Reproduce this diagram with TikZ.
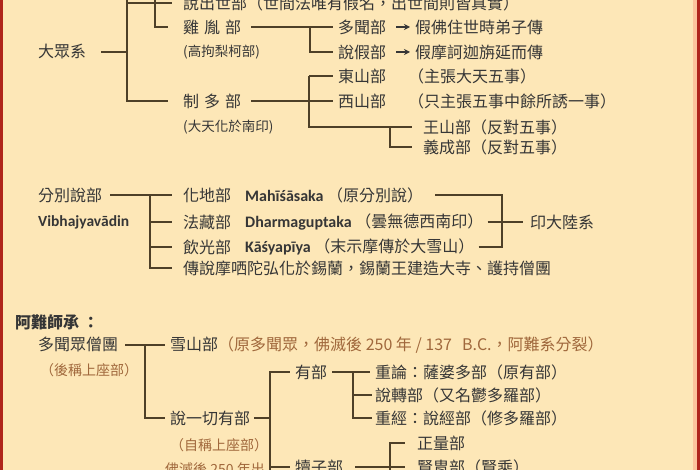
\documentclass[tikz,border=0pt]{standalone}
\usepackage{fontspec}
\setmainfont{Noto Sans CJK TC}
\newfontfamily\lat{Carlito}
\usetikzlibrary{arrows.meta}
\definecolor{bg}{HTML}{FDE7B7}
\definecolor{redb}{HTML}{B0261C}
\definecolor{txt}{HTML}{363636}
\definecolor{brn}{HTML}{A0683C}
\definecolor{lnc}{HTML}{4E4028}
\tikzset{
  t/.style={anchor=west, inner sep=0pt, text=txt, font=\fontsize{16}{16}\selectfont},
  sm/.style={anchor=west, inner sep=0pt, text=txt, font=\fontsize{13.5}{14}\selectfont},
  bt/.style={anchor=west, inner sep=0pt, text=brn, font=\fontsize{14}{14}\selectfont},
  ln/.style={draw=lnc, line width=1.3pt},
  arr/.style={draw=txt, line width=1.6pt, -{Stealth[length=6pt,width=6pt]}},
}
\newcommand{\lb}[1]{{\lat\bfseries #1}}
\begin{document}
\begin{tikzpicture}[x=1pt,y=-1pt]
\useasboundingbox (0,0) rectangle (700,470);
\clip (0,0) rectangle (700,470);
\fill[bg] (0,0) rectangle (700,470);
\fill[redb] (0,0) rectangle (3.3,470);
\fill[bg!85!red] (693,0) rectangle (697,470);
\fill[redb] (697,0) rectangle (700,470);

% ---------- section 1 ----------
\node[t] (dz) at (38,52) {大眾系};
\node[t] (sc) at (183,3) {說出世部（世間法唯有假名，出世間則皆真實）};
\node[t] (jy) at (183,27) {雞\hspace{5pt}胤\hspace{5pt}部};
\node[sm] (gj) at (183,52) {(高拘梨柯部)};
\node[t] (zd) at (183,101) {制\hspace{5pt}多\hspace{5pt}部};
\node[sm] (dth) at (183,127) {(大天化於南印)};
\node[t] (dw) at (338,27) {多聞部};
\node[t] (jf1) at (415,27) {假佛住世時弟子傳};
\node[t] (sj) at (338,52) {說假部};
\node[t] (jf2) at (415,52) {假摩訶迦旃延而傳};
\node[t] (ds) at (338,76) {東山部};
\node[t] (ds2) at (408,76) {（主張大天五事）};
\node[t] (xs) at (338,101) {西山部};
\node[t] (xs2) at (408,101) {（只主張五事中餘所誘一事）};
\node[t] (ws) at (423,127) {王山部（反對五事）};
\node[t] (yc) at (423,147) {義成部（反對五事）};

\coordinate (a1) at (127,-10);
\coordinate (a2) at (155,-10);
\coordinate (c310) at (310,0);
\coordinate (c309) at (309,0);
\coordinate (c390) at (390,0);
\draw[ln, shorten <=15pt] (dz.east) -- (dz.east -| a1);
\draw[ln] (a1) |- ([xshift=-15pt]zd.west);
\draw[ln] (sc.west -| a1) -- ([xshift=-11pt]sc.west);
\draw[ln] (a2) |- ([xshift=-15pt]jy.west);
\draw[ln, shorten <=10pt] (jy.east) -- ([xshift=-5pt]dw.west);
\draw[ln] (jy.east -| c310) |- ([xshift=-5pt]sj.west);
\draw[arr, shorten <=10pt, shorten >=5pt] (dw.east) -- (jf1.west);
\draw[arr, shorten <=10pt, shorten >=5pt] (sj.east) -- (jf2.west);
\draw[ln, shorten <=10pt] (zd.east) -- ([xshift=-5pt]xs.west);
\draw[ln] (ds.west -| c309) ++(0,0) -- ([xshift=-5pt]ds.west);
\draw[ln] (ds.west -| c309) |- ([xshift=-11pt]ws.west);
\draw[ln] (ws.west -| c390) |- ([xshift=-11pt]yc.west);

% ---------- section 2 ----------
\node[t] (fb) at (38,195) {分別說部};
\node[t, font=\lat\bfseries\fontsize{15.5}{16}\selectfont] (vb) at (38,222) {Vibhajyavādin};
\node[t] (hd) at (183,195) {化地部};
\node[t] (hdl) at (245,195) {\lb{Mahīśāsaka} （原分別說）};
\node[t] (fz) at (183,222) {法藏部};
\node[t] (fzl) at (245,222) {\lb{Dharmaguptaka} （曇無德西南印）};
\node[t] (yg) at (183,247) {飲光部};
\node[t] (ygl) at (245,247) {\lb{Kāśyapīya} （末示摩傳於大雪山）};
\node[t] (cs) at (183,268) {傳說摩哂陀弘化於錫蘭，錫蘭王建造大寺、護持僧團};
\node[t] (yd) at (530,222) {印大陸系};

\coordinate (c150) at (150,0);
\coordinate (k) at (502,222);
\draw[ln, shorten <=8pt] (fb.east) -- ([xshift=-11pt]hd.west);
\draw[ln] (fb.east -| c150) |- ([xshift=-11pt]cs.west);
\draw[ln] (fz.west -| c150) -- ([xshift=-11pt]fz.west);
\draw[ln] (yg.west -| c150) -- ([xshift=-11pt]yg.west);
\draw[ln, shorten <=12pt] (hdl.east) -| (k);
\draw[ln, shorten <=4pt] (ygl.east) -| (k);
\draw[ln, shorten <=4pt] (fzl.east) -- ([xshift=-7pt]yd.west);

% ---------- section 3 ----------
\node[t, font=\bfseries\fontsize{16}{16}\selectfont] (an) at (15,322) {阿難師承 ：};
\node[t] (dwt) at (38,345) {多聞眾僧團};
\node[bt] (hc) at (40,370) {（後稱上座部）};
\node[t] (xsb) at (170,345) {雪山部\textcolor{brn}{（原多聞眾，佛滅後 250 年 / 137\hspace{10pt}B.C.，阿難系分裂）}};
\node[t] (syq) at (170,418) {說一切有部};
\node[bt] (zc) at (170,445) {（自稱上座部）};
\node[bt] (fm) at (165,469) {佛滅後 250 年出};
\node[t] (yb) at (295,372) {有部};
\node[t] (dzb) at (295,467) {犢子部};
\node[t] (zl) at (375,372) {重論：薩婆多部（原有部）};
\node[t] (sz) at (375,395) {說轉部（又名鬱多羅部）};
\node[t] (zj) at (375,418) {重經：說經部（修多羅部）};
\node[t] (zlb) at (417,443) {正量部};
\node[t] (xz) at (417,467) {賢胄部（賢乘）};

\coordinate (c145) at (145,0);
\coordinate (c270) at (270,500);
\coordinate (c353) at (353,0);
\coordinate (c390b) at (390,500);
\draw[ln, shorten <=7pt] (dwt.east) -- ([xshift=-5pt]xsb.west);
\draw[ln] (dwt.east -| c145) |- ([xshift=-5pt]syq.west);
\draw[ln, shorten <=4pt] (syq.east) -- (syq.east -| c270);
\draw[ln] (c270) |- ([xshift=-5pt]yb.west);
\draw[ln] (dzb.west -| c270) -- ([xshift=-5pt]dzb.west);
\draw[ln, shorten <=5pt] (yb.east) -- ([xshift=-5pt]zl.west);
\draw[ln] (yb.east -| c353) |- ([xshift=-3pt]zj.west);
\draw[ln] (sz.west -| c353) -- ([xshift=-3pt]sz.west);
\draw[ln, shorten <=12pt] (dzb.east) -- ([xshift=-12pt]xz.west);
\draw[ln] (c390b) |- ([xshift=-12pt]zlb.west);
\end{tikzpicture}
\end{document}
